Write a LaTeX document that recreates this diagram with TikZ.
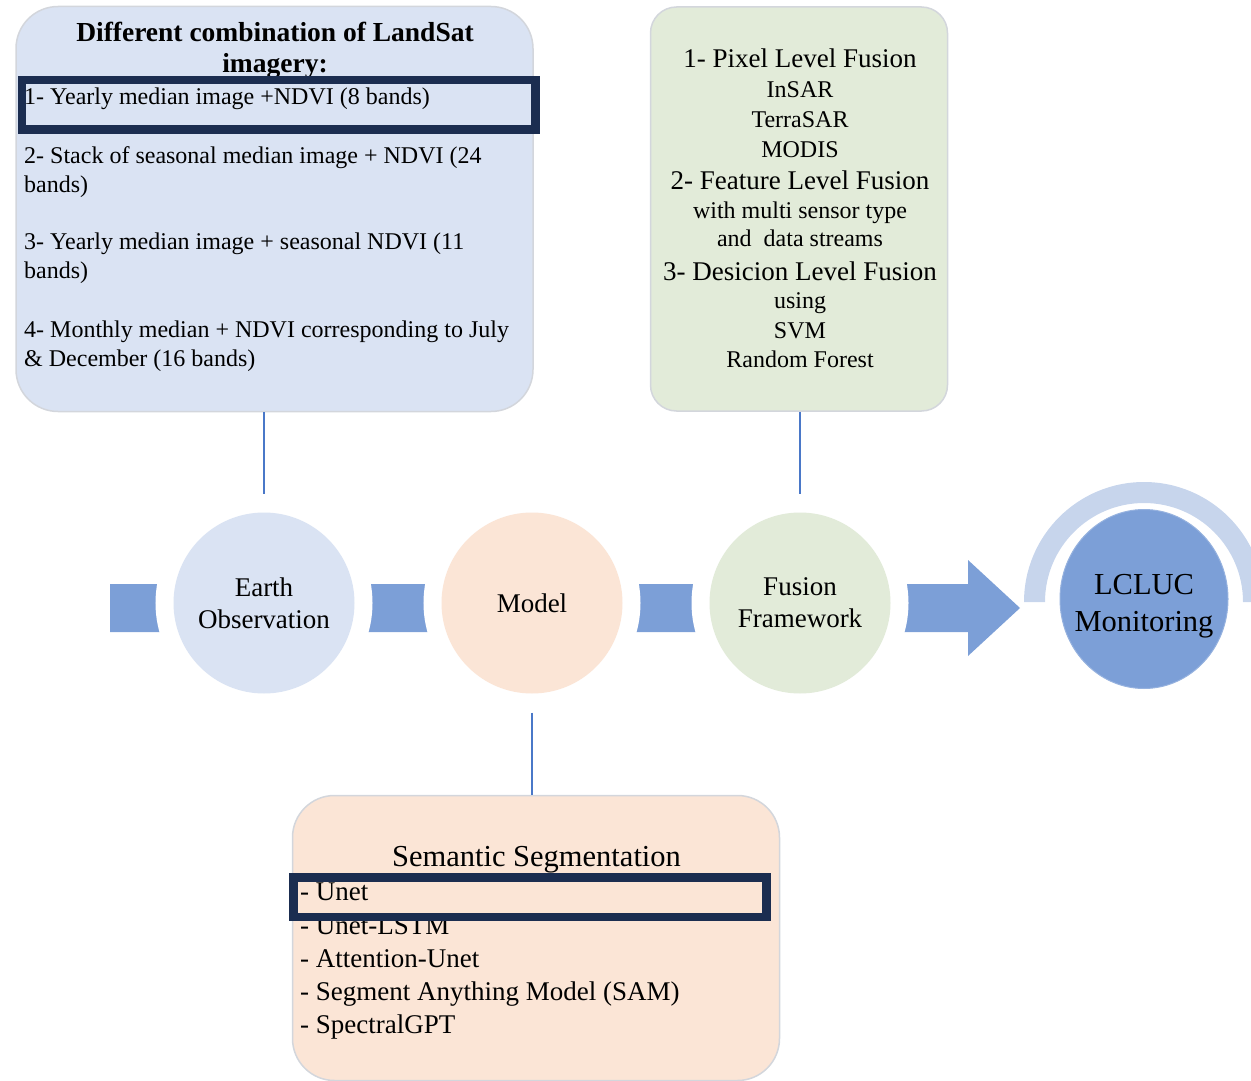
\documentclass[tikz,border=0pt]{standalone}
\usepackage{fontspec}
\setmainfont{Liberation Serif}
\usetikzlibrary{shapes.geometric}

\definecolor{eoblue}{HTML}{DAE3F3}
\definecolor{peach}{HTML}{FBE5D6}
\definecolor{sage}{HTML}{E2EBD9}
\definecolor{bandblue}{HTML}{7C9FD7}
\definecolor{ringblue}{HTML}{C7D5EC}
\definecolor{navy}{HTML}{1B2D50}
\definecolor{linkblue}{HTML}{4A78C8}
\definecolor{edge}{HTML}{D3D6DC}

\newcommand{\fsz}[2]{\fontsize{#1}{#2}\selectfont}

\begin{document}
\begin{tikzpicture}[x=1pt,y=-1pt,
  panel/.style={rectangle, draw=edge, line width=1.5pt, inner sep=0pt},
  stage/.style={circle, minimum size=181pt, inner sep=0pt, align=center,
    font=\fsz{27}{32}, preaction={draw=white, line width=36pt}},
  link/.style={draw=linkblue, line width=1.8pt},
  hilite/.style={rectangle, draw=navy, line width=8.5pt, inner sep=0pt},
  item/.style={anchor=base west, inner sep=0pt, font=\fsz{24}{29}},
  cline/.style={anchor=base, inner sep=0pt, font=\fsz{24}{29}},
  chead/.style={anchor=base, inner sep=0pt, font=\fsz{27}{30}},
  sitem/.style={anchor=base west, inner sep=0pt, font=\fsz{27}{33}},
]
\useasboundingbox (0,0) rectangle (1251,1081);
\clip (0,0) rectangle (1251,1081);

% flow band with the arrow head
\coordinate (flowin) at (110,608);
\coordinate (tip) at (1020,608);
\fill[bandblue] (flowin) ++(0,-24) -- (968,584) -- (968,560) -- (tip)
  -- (968,656) -- (968,632) -- (110,632) -- cycle;

% half ring over the result
\fill[ringblue] (1024,602) arc[start angle=180, end angle=0, radius=120pt]
  -- ++(-21pt,0) arc[start angle=0, end angle=180, radius=99pt] -- cycle;

% stages
\node[stage, fill=eoblue] (eo) at (264,603) {Earth\\Observation};
\node[stage, fill=peach] (md) at (532,603) {Model};
\node[stage, fill=sage] (ff) at (800,603) {Fusion\\Framework};
\node[ellipse, fill=bandblue, draw=bandblue!80!white, line width=1pt,
  minimum width=168pt, minimum height=179pt, inner sep=0pt] (lc) at (1144,599) {};
\node[align=center, inner sep=0pt, font=\fsz{30.5}{37}, text depth=0pt]
  (lct) at (1144,603) {LCLUC\\Monitoring};

% panels
\node[panel, fill=eoblue, rounded corners=42pt, minimum width=517pt,
  minimum height=405pt] (lbox) at (274.5,209) {};
\node[panel, fill=sage, rounded corners=26pt, minimum width=297pt,
  minimum height=404pt] (rbox) at (799,209) {};
\node[panel, fill=peach, rounded corners=42pt, minimum width=487pt,
  minimum height=285pt] (bbox) at (536,938) {};

% Landsat combinations
\node[anchor=base, inner sep=0pt, font=\bfseries\fsz{27.5}{30}] (lt1) at (275,42) {Different combination of LandSat};
\node[anchor=base, inner sep=0pt, font=\bfseries\fsz{27.5}{30}] (lt2) at (275,73) {imagery:};
\node[item] (l1) at (24,104) {1- Yearly median image +NDVI (8 bands)};
\node[item] (l2a) at (24,163) {2- Stack of seasonal median image + NDVI (24};
\node[item] (l2b) at (24,192) {bands)};
\node[item] (l3a) at (24,249) {3- Yearly median image + seasonal NDVI (11};
\node[item] (l3b) at (24,278) {bands)};
\node[item] (l4a) at (24,337) {4- Monthly median + NDVI corresponding to July};
\node[item] (l4b) at (24,366) {\& December (16 bands)};

% fusion levels
\node[chead] (f1) at (800,68) {1- Pixel Level Fusion};
\node[cline] (f1a) at (800,98) {InSAR};
\node[cline] (f1b) at (800,128) {TerraSAR};
\node[cline] (f1c) at (800,157) {MODIS};
\node[chead] (f2) at (800,189) {2- Feature Level Fusion};
\node[cline] (f2a) at (800,218) {with multi sensor type};
\node[cline] (f2b) at (800,246) {and\ \ data streams};
\node[chead] (f3) at (800,280) {3- Desicion Level Fusion};
\node[cline] (f3a) at (800,308) {using};
\node[cline] (f3b) at (800,338) {SVM};
\node[cline] (f3c) at (800,367) {Random Forest};

% segmentation models
\node[anchor=base, inner sep=0pt, font=\fsz{30.5}{33}] (st) at (536.5,866) {Semantic Segmentation};
\node[sitem] (s1) at (300,900) {- Unet};
\node[sitem] (s2) at (300,934) {- Unet-LSTM};
\node[sitem] (s3) at (300,967) {- Attention-Unet};
\node[sitem] (s4) at (300,1000) {- Segment Anything Model (SAM)};
\node[sitem] (s5) at (300,1033) {- SpectralGPT};

% selected options
\node[hilite, minimum width=513.5pt, minimum height=49.5pt] (sel1) at (278.75,104.75) {};
\node[hilite, minimum width=473.4pt, minimum height=39.5pt] (sel2) at (530,897.25) {};

% links from panels to stages
\draw[link, shorten >=18pt] (eo.north |- lbox.south) -- (eo.north);
\draw[link, shorten >=18pt] (ff.north |- rbox.south) -- (ff.north);
\draw[link, shorten <=19pt] (md.south) -- (md.south |- bbox.north);
\end{tikzpicture}
\end{document}
